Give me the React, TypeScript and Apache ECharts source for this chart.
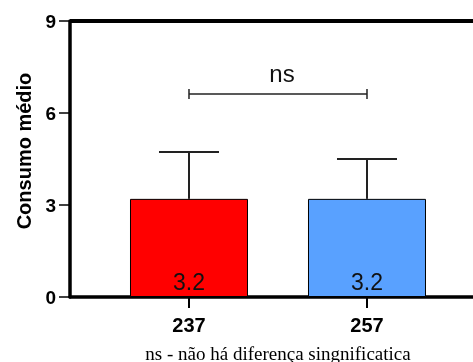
import React, { useEffect, useRef } from "react";
import * as echarts from "echarts";

const categories = ["237", "257"];
const means = [3.2, 3.2];
const errTops = [4.73, 4.5];
const barColors = ["#ff0000", "#59a1ff"];
const yTicks = [0, 3, 6, 9];
const sigLevel = 6.62;
const sigText = "ns";
const yName = "Consumo médio";
const caption = "ns - não há diferença singnificatica";

export default function App() {
  const ref = useRef<HTMLDivElement>(null);
  useEffect(() => {
    if (!ref.current) return;
    const chart = echarts.init(ref.current, null, { renderer: "svg" });
    const xs = categories.map((_, i) => i);
    chart.setOption({
      animation: false,
      grid: { left: 70, top: 21, bottom: 65, right: 8.4, show: false },
      xAxis: {
        type: "value",
        min: -0.6685,
        max: 1.7,
        splitLine: { show: false },
        axisLine: { show: true, onZero: false, lineStyle: { color: "#000", width: 3.5 } },
        axisTick: { show: true, customValues: xs, length: 11, lineStyle: { color: "#000", width: 2 } },
        axisLabel: {
          customValues: xs,
          formatter: (v: number) => categories[Math.round(v)] ?? "",
          fontFamily: "Liberation Sans, Arial",
          fontWeight: "bold",
          fontSize: 20,
          color: "#000",
          margin: 18,
        },
      },
      yAxis: [
        {
          type: "value",
          min: yTicks[0],
          max: yTicks[yTicks.length - 1],
          interval: 3,
          splitLine: { show: false },
          axisLine: { show: true, onZero: false, lineStyle: { color: "#000", width: 3.5 } },
          axisTick: { show: true, length: 11, lineStyle: { color: "#000", width: 1.5 } },
          axisLabel: {
            fontFamily: "Liberation Sans, Arial",
            fontWeight: "bold",
            fontSize: 19,
            color: "#000",
            margin: 14,
          },
        },
      ],
      graphic: [
        {
          type: "line",
          shape: { x1: 70, y1: 21, x2: 500, y2: 21 },
          style: { stroke: "#000", lineWidth: 4 },
        },
        {
          type: "text",
          x: 24,
          y: 151,
          rotation: Math.PI / 2,
          style: {
            text: yName,
            fontFamily: "Liberation Sans, Arial",
            fontWeight: "bold",
            fontSize: 20,
            fill: "#000",
            align: "center",
            verticalAlign: "middle",
          },
        },
        {
          type: "text",
          x: 278,
          y: 353,
          style: {
            text: caption,
            fontFamily: "Liberation Serif, Times New Roman, serif",
            fontSize: 19,
            fill: "#000",
            align: "center",
            verticalAlign: "middle",
          },
        },
      ],
      series: [
        {
          type: "bar",
          barWidth: 118,
          data: xs.map((x, i) => ({
            value: [x, means[i]],
            itemStyle: { color: barColors[i], borderColor: "#000", borderWidth: 1 },
          })),
          label: {
            show: true,
            position: "insideBottom",
            distance: 4,
            formatter: (p: any) => String(p.value[1]),
            fontFamily: "Liberation Sans, Arial",
            fontSize: 23,
            color: "#111",
          },
          z: 2,
        },
        {
          type: "custom",
          z: 3,
          data: xs.map((x, i) => [x, means[i], errTops[i]]),
          renderItem: (params: any, api: any) => {
            const x = api.value(0);
            const p0 = api.coord([x, api.value(1)]);
            const p1 = api.coord([x, api.value(2)]);
            const style = { stroke: "#222", lineWidth: 2 };
            return {
              type: "group",
              children: [
                { type: "line", shape: { x1: p0[0], y1: p0[1], x2: p1[0], y2: p1[1] }, style },
                { type: "line", shape: { x1: p1[0] - 30, y1: p1[1], x2: p1[0] + 30, y2: p1[1] }, style },
              ],
            };
          },
        },
        {
          type: "custom",
          z: 3,
          data: [[0, 1, sigLevel]],
          renderItem: (params: any, api: any) => {
            const a = api.coord([api.value(0), api.value(2)]);
            const b = api.coord([api.value(1), api.value(2)]);
            const style = { stroke: "#222", lineWidth: 1.5 };
            return {
              type: "group",
              children: [
                { type: "line", shape: { x1: a[0], y1: a[1], x2: b[0], y2: b[1] }, style },
                { type: "line", shape: { x1: a[0], y1: a[1] - 5, x2: a[0], y2: a[1] + 5 }, style },
                { type: "line", shape: { x1: b[0], y1: b[1] - 5, x2: b[0], y2: b[1] + 5 }, style },
                {
                  type: "text",
                  x: (a[0] + b[0]) / 2 + 4,
                  y: a[1] - 20,
                  style: {
                    text: sigText,
                    fontFamily: "Liberation Sans, Arial",
                    fontSize: 24,
                    fill: "#111",
                    align: "center",
                    verticalAlign: "middle",
                  },
                },
              ],
            };
          },
        },
      ],
    });
    return () => chart.dispose();
  }, []);
  return (
    <div
      ref={ref}
      style={{ position: "fixed", left: 0, top: 0, width: 500, height: 362 }}
    />
  );
}
